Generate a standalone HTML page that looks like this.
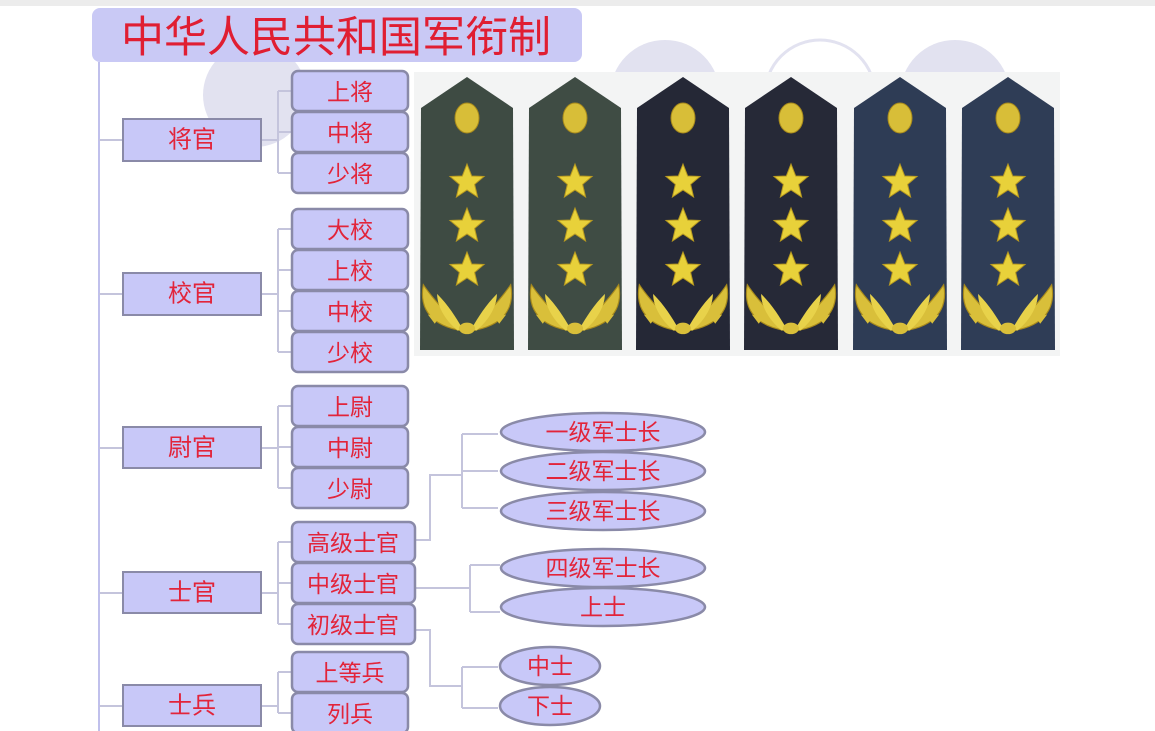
<!DOCTYPE html>
<html><head><meta charset="utf-8"><style>
html,body{margin:0;padding:0;background:#fff;}
svg{display:block;}
text{font-family:"Liberation Sans","Noto Sans CJK SC",sans-serif;fill:#e2243a;text-anchor:middle;dominant-baseline:central;}
</style></head><body>
<svg width="1155" height="731" viewBox="0 0 1155 731" xmlns="http://www.w3.org/2000/svg">
<defs>
<polygon id="st" points="0,-18 4.7,-6 17,-5.6 7.6,2.4 10.6,15 0,8 -10.6,15 -7.6,2.4 -17,-5.6 -4.7,-6" fill="#e8d13a" stroke="#b89a20" stroke-width="1"/>
<g id="wr" transform="scale(1.15)">
<path d="M-4,18 C-30,14 -42,0 -38,-22 C-30,-10 -20,0 -4,18Z" fill="#d9bf3a" stroke="#a88a1c"/>
<path d="M4,18 C30,14 42,0 38,-22 C30,-10 20,0 4,18Z" fill="#d9bf3a" stroke="#a88a1c"/>
<path d="M-8,18 C-20,8 -26,-4 -26,-14 C-16,-4 -10,6 -4,16Z" fill="#e8d24a"/>
<path d="M8,18 C20,8 26,-4 26,-14 C16,-4 10,6 4,16Z" fill="#e8d24a"/>
<path d="M-30,-6 l-8,-6 l2,10Z M-24,6 l-10,-2 l6,8Z M30,-6 l8,-6 l-2,10Z M24,6 l10,-2 l-6,8Z" fill="#d9bf3a"/>
<ellipse cx="0" cy="16" rx="7" ry="5" fill="#d9bf3a"/>
</g>
</defs>
<rect x="0" y="0" width="1155" height="6" fill="#ececec"/>
<circle cx="255" cy="95" r="52" fill="#e2e2f0"/>
<circle cx="665" cy="95" r="55" fill="#e2e2f0"/>
<circle cx="820" cy="95" r="55" fill="none" stroke="#e2e2f0" stroke-width="3"/>
<circle cx="955" cy="95" r="55" fill="#e2e2f0"/>
<rect x="92" y="8" width="490" height="54" rx="8" fill="#c9c9f5"/>
<text x="336" y="38" font-size="43" style="fill:#e01e32">中华人民共和国军衔制</text>
<rect x="414" y="72" width="646" height="284" fill="#f3f4f4"/>
<g>
<g transform="translate(467,0)"><polygon points="-46,108 0,77 46,108 47,350 -47,350" fill="#3e4b43"/></g>
<g transform="translate(575,0)"><polygon points="-46,108 0,77 46,108 47,350 -47,350" fill="#3f4c44"/></g>
<g transform="translate(683,0)"><polygon points="-46,108 0,77 46,108 47,350 -47,350" fill="#252836"/></g>
<g transform="translate(791,0)"><polygon points="-46,108 0,77 46,108 47,350 -47,350" fill="#262937"/></g>
<g transform="translate(900,0)"><polygon points="-46,108 0,77 46,108 47,350 -47,350" fill="#2e3c55"/></g>
<g transform="translate(1008,0)"><polygon points="-46,108 0,77 46,108 47,350 -47,350" fill="#2f3d56"/></g>
</g>
<g>
<g transform="translate(467,0)"><ellipse cx="0" cy="118" rx="12" ry="15" fill="#d8be38" stroke="#a88a1c"/><use href="#st" y="182"/><use href="#st" y="226"/><use href="#st" y="270"/><use href="#wr" y="310"/></g>
<g transform="translate(575,0)"><ellipse cx="0" cy="118" rx="12" ry="15" fill="#d8be38" stroke="#a88a1c"/><use href="#st" y="182"/><use href="#st" y="226"/><use href="#st" y="270"/><use href="#wr" y="310"/></g>
<g transform="translate(683,0)"><ellipse cx="0" cy="118" rx="12" ry="15" fill="#d8be38" stroke="#a88a1c"/><use href="#st" y="182"/><use href="#st" y="226"/><use href="#st" y="270"/><use href="#wr" y="310"/></g>
<g transform="translate(791,0)"><ellipse cx="0" cy="118" rx="12" ry="15" fill="#d8be38" stroke="#a88a1c"/><use href="#st" y="182"/><use href="#st" y="226"/><use href="#st" y="270"/><use href="#wr" y="310"/></g>
<g transform="translate(900,0)"><ellipse cx="0" cy="118" rx="12" ry="15" fill="#d8be38" stroke="#a88a1c"/><use href="#st" y="182"/><use href="#st" y="226"/><use href="#st" y="270"/><use href="#wr" y="310"/></g>
<g transform="translate(1008,0)"><ellipse cx="0" cy="118" rx="12" ry="15" fill="#d8be38" stroke="#a88a1c"/><use href="#st" y="182"/><use href="#st" y="226"/><use href="#st" y="270"/><use href="#wr" y="310"/></g>
</g>
<g stroke="#c4c4dc" stroke-width="2" fill="none">
<line x1="99" y1="62" x2="99" y2="731" stroke="#c0c0ec"/>
<path d="M99,140H123 M99,294H123 M99,448H123 M99,593H123 M99,706H123"/>
<path d="M261,140H278 M278,91V173 M278,91H292 M278,132H292 M278,173H292"/>
<path d="M261,294H278 M278,229V352 M278,229H292 M278,270H292 M278,311H292 M278,352H292"/>
<path d="M261,448H278 M278,406V488 M278,406H292 M278,447H292 M278,488H292"/>
<path d="M261,593H278 M278,542V624 M278,542H292 M278,583H292 M278,624H292"/>
<path d="M261,706H278 M278,672V713 M278,672H292 M278,713H292"/>
<path d="M415,540H430V475H462 M462,434V508 M462,434H498 M462,471H498 M462,508H498"/>
<path d="M415,588H470 M470,565V612 M470,565H500 M470,612H500"/>
<path d="M415,630H430V686H462 M462,667V708 M462,667H498 M462,708H498"/>
</g>
<g fill="#c8c8f8" stroke="#8a8aa8" stroke-width="2">
<rect x="123" y="119" width="138" height="42"/>
<rect x="123" y="273" width="138" height="42"/>
<rect x="123" y="427" width="138" height="41"/>
<rect x="123" y="572" width="138" height="41"/>
<rect x="123" y="685" width="138" height="41"/>
</g>
<g font-size="24">
<text x="192" y="140">将官</text>
<text x="192" y="294">校官</text>
<text x="192" y="448">尉官</text>
<text x="192" y="593">士官</text>
<text x="192" y="706">士兵</text>
</g>
<g fill="#c8c8f8" stroke="#8a8aa8" stroke-width="2.5">
<rect x="292" y="71" width="116" height="40" rx="6"/>
<rect x="292" y="112" width="116" height="40" rx="6"/>
<rect x="292" y="153" width="116" height="40" rx="6"/>
<rect x="292" y="209" width="116" height="40" rx="6"/>
<rect x="292" y="250" width="116" height="40" rx="6"/>
<rect x="292" y="291" width="116" height="40" rx="6"/>
<rect x="292" y="332" width="116" height="40" rx="6"/>
<rect x="292" y="386" width="116" height="40" rx="6"/>
<rect x="292" y="427" width="116" height="40" rx="6"/>
<rect x="292" y="468" width="116" height="40" rx="6"/>
<rect x="292" y="522" width="123" height="40" rx="6"/>
<rect x="292" y="563" width="123" height="40" rx="6"/>
<rect x="292" y="604" width="123" height="40" rx="6"/>
<rect x="292" y="652" width="116" height="40" rx="6"/>
<rect x="292" y="693" width="116" height="40" rx="6"/>
</g>
<g font-size="23">
<text x="350" y="92">上将</text>
<text x="350" y="133">中将</text>
<text x="350" y="174">少将</text>
<text x="350" y="230">大校</text>
<text x="350" y="271">上校</text>
<text x="350" y="312">中校</text>
<text x="350" y="353">少校</text>
<text x="350" y="407">上尉</text>
<text x="350" y="448">中尉</text>
<text x="350" y="489">少尉</text>
<text x="353" y="543">高级士官</text>
<text x="353" y="584">中级士官</text>
<text x="353" y="625">初级士官</text>
<text x="350" y="673">上等兵</text>
<text x="350" y="714">列兵</text>
</g>
<g fill="#c8c8f8" stroke="#8a8aa8" stroke-width="2.5">
<ellipse cx="603" cy="432" rx="102" ry="19"/>
<ellipse cx="603" cy="471" rx="102" ry="19"/>
<ellipse cx="603" cy="511" rx="102" ry="19"/>
<ellipse cx="603" cy="568" rx="102" ry="19"/>
<ellipse cx="603" cy="607" rx="102" ry="19"/>
<ellipse cx="550" cy="666" rx="50" ry="19"/>
<ellipse cx="550" cy="706" rx="50" ry="19"/>
</g>
<g font-size="23">
<text x="603" y="432">一级军士长</text>
<text x="603" y="471">二级军士长</text>
<text x="603" y="511">三级军士长</text>
<text x="603" y="568">四级军士长</text>
<text x="603" y="607">上士</text>
<text x="550" y="666">中士</text>
<text x="550" y="706">下士</text>
</g>
</svg>
</body></html>
